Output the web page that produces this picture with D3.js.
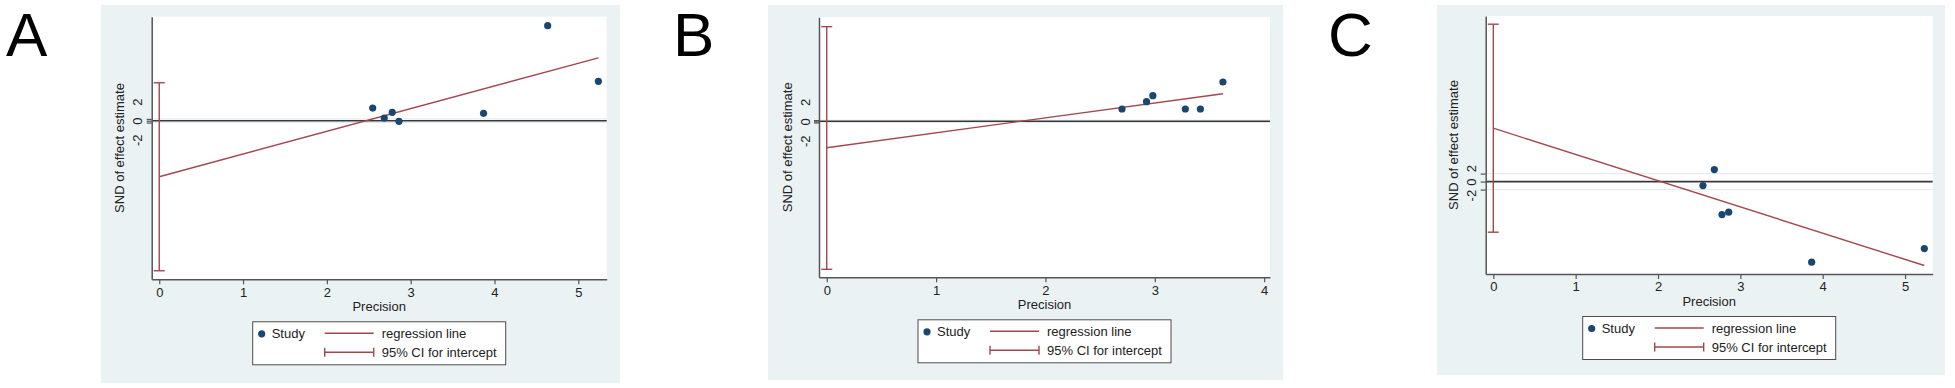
<!DOCTYPE html>
<html>
<head>
<meta charset="utf-8">
<script src="https://cdn.jsdelivr.net/npm/d3@7"></script>
<style>
  body { margin: 0; background: #fff; }
  svg { display: block; font-family: "Liberation Sans", Arial, sans-serif; }
</style>
</head>
<body>
<div id="chart"></div>
<script>
// ---- data ----
// Panel A
const precisionA = [2.547, 2.685, 2.78, 2.86, 3.87, 4.635, 5.24];
const sndA = [14.1, 3.0, 9.3, -0.7, 8.2, 105.6, 43.8];
const regA = [-62.2, 25.2];          // intercept, slope
const ciA = [-166.7, 42.2];          // 95% CI for intercept

// Panel B
const precisionB = [2.70, 2.924, 2.982, 3.279, 3.417, 3.623];
const sndB = [20.5, 32.7, 42.7, 20.5, 20.5, 65.5];
const regB = [-44, 24.84];
const ciB = [-246.7, 157.7];

// Panel C
const precisionC = [2.546, 2.684, 2.777, 2.858, 3.866, 5.234];
const sndC = [-1.0, 3.0, -8.25, -7.65, -20.15, -16.75];
const regC = [13.35, -6.56];
const ciC = [-12.65, 39.35];

const yTicks = [-2, 0, 2];
const xTicksA = [0, 1, 2, 3, 4, 5];
const xTicksB = [0, 1, 2, 3, 4];
const xTicksC = [0, 1, 2, 3, 4, 5];
const legendLabels = ['Study', 'regression line', '95% CI for intercept'];
const xTitle = 'Precision';
const yTitle = 'SND of effect estimate';

// ---- layout ----
const panels = [
  { letter: 'A', letterX: 6, bg: [101, 5, 620, 383],
    plot: { left: 151.7, right: 606.7, top: 16.7, bottom: 279.3 },
    xDomain: [-0.09, 5.339], yDomain: [-176.2, 115.6], labelGap: 19,
    precision: precisionA, snd: sndA, reg: regA, ci: ciA, xTicks: xTicksA },
  { letter: 'B', letterX: 673, bg: [768, 5, 1283, 380],
    plot: { left: 819, right: 1270, top: 17.3, bottom: 277.3 },
    xDomain: [-0.0708, 4.0533], yDomain: [-260, 173.3], labelGap: 19.5,
    precision: precisionB, snd: sndB, reg: regB, ci: ciB, xTicks: xTicksB },
  { letter: 'C', letterX: 1328, bg: [1437, 5, 1945, 375],
    plot: { left: 1485.7, right: 1932.7, top: 16, bottom: 274 },
    xDomain: [-0.0923, 5.3357], yDomain: [-23.1, 41.4], labelGap: 13.5,
    precision: precisionC, snd: sndC, reg: regC, ci: ciC, xTicks: xTicksC }
];

const colors = { bg: '#eaf2f3', point: '#1a476f', reg: '#a3474f', axis: '#555', text: '#222', zero: '#383838', grid: '#e2e9ec' };

const svg = d3.select('#chart').append('svg')
  .attr('width', 1955)
  .attr('height', 388);

panels.forEach(p => drawPanel(p));

function drawPanel(p) {
  const g = svg.append('g');
  const { left, right, top, bottom } = p.plot;

  // panel letter
  g.append('text')
    .attr('x', p.letterX).attr('y', 56)
    .attr('font-size', 62).attr('fill', '#000')
    .text(p.letter);

  // graph region + plot region
  g.append('rect')
    .attr('x', p.bg[0]).attr('y', p.bg[1])
    .attr('width', p.bg[2] - p.bg[0]).attr('height', p.bg[3] - p.bg[1])
    .attr('fill', colors.bg);
  g.append('rect')
    .attr('x', left).attr('y', top)
    .attr('width', right - left).attr('height', bottom - top)
    .attr('fill', '#fff');

  const x = d3.scaleLinear().domain(p.xDomain).range([left, right]);
  const y = d3.scaleLinear().domain(p.yDomain).range([bottom, top]);

  // light gridlines at y ticks
  g.selectAll('.grid').data(yTicks.filter(v => v !== 0)).enter()
    .append('line')
    .attr('x1', left).attr('x2', right)
    .attr('y1', d => y(d)).attr('y2', d => y(d))
    .attr('stroke', colors.grid).attr('stroke-width', 1);

  // zero reference line
  g.append('line')
    .attr('x1', left).attr('x2', right)
    .attr('y1', y(0)).attr('y2', y(0))
    .attr('stroke', colors.zero).attr('stroke-width', 1.6);

  // CI for intercept
  const capW = 5.5;
  const ci = g.append('g').attr('stroke', colors.reg).attr('stroke-width', 1.4);
  ci.append('line').attr('x1', x(0)).attr('x2', x(0)).attr('y1', y(p.ci[0])).attr('y2', y(p.ci[1]));
  p.ci.forEach(v => {
    ci.append('line').attr('x1', x(0) - capW).attr('x2', x(0) + capW).attr('y1', y(v)).attr('y2', y(v));
  });

  // regression line
  const xMax = d3.max(p.precision);
  g.append('line')
    .attr('x1', x(0)).attr('y1', y(p.reg[0]))
    .attr('x2', x(xMax)).attr('y2', y(p.reg[0] + p.reg[1] * xMax))
    .attr('stroke', colors.reg).attr('stroke-width', 1.4);

  // studies
  g.selectAll('.pt').data(p.precision).enter()
    .append('circle')
    .attr('cx', d => x(d))
    .attr('cy', (d, i) => y(p.snd[i]))
    .attr('r', 3.6)
    .attr('fill', colors.point);

  // x axis
  const xAxis = g.append('g')
    .attr('transform', `translate(0,${bottom})`)
    .call(d3.axisBottom(x).tickValues(p.xTicks).tickFormat(d3.format('d'))
      .tickSize(5).tickSizeOuter(0).tickPadding(3));
  xAxis.select('.domain').attr('stroke', colors.axis).attr('stroke-width', 1.5);
  xAxis.selectAll('.tick line').attr('stroke', colors.axis).attr('stroke-width', 1.2);
  xAxis.selectAll('.tick text')
    .attr('font-size', 13).attr('fill', colors.text)
    .attr('font-family', '"Liberation Sans", Arial, sans-serif');

  // y axis
  const yAxis = g.append('g')
    .attr('transform', `translate(${left},0)`)
    .call(d3.axisLeft(y).tickValues(yTicks).tickFormat(d3.format('d'))
      .tickSize(5).tickSizeOuter(0));
  yAxis.select('.domain').attr('stroke', colors.axis).attr('stroke-width', 1.5);
  yAxis.selectAll('.tick line').attr('stroke', colors.axis).attr('stroke-width', 1.2);
  yAxis.selectAll('.tick text')
    .attr('font-size', 13).attr('fill', colors.text)
    .attr('font-family', '"Liberation Sans", Arial, sans-serif')
    .attr('text-anchor', 'middle')
    .attr('x', 0).attr('dy', '0.35em')
    .text(d => d < 0 ? '-' + Math.abs(d) : d)
    .attr('transform', d => {
      const ly = y(0) - Math.sign(d) * p.labelGap;
      return `translate(-14,${ly - y(d)}) rotate(-90)`;
    });

  // axis titles
  const cx = (left + right) / 2;
  g.append('text')
    .attr('x', cx).attr('y', bottom + 31.5)
    .attr('text-anchor', 'middle')
    .attr('font-size', 13).attr('fill', colors.text)
    .text(xTitle);
  g.append('text')
    .attr('transform', `translate(${left - 32},${(top + bottom) / 2}) rotate(-90)`)
    .attr('text-anchor', 'middle').attr('dy', '0.35em')
    .attr('font-size', 13).attr('fill', colors.text)
    .text(yTitle);

  // legend
  const lw = 253, lh = 43;
  const lx = cx - lw / 2, ly = bottom + 42.5;
  const lg = g.append('g').attr('transform', `translate(${lx},${ly})`);
  lg.append('rect').attr('width', lw).attr('height', lh)
    .attr('fill', '#fff').attr('stroke', '#4d4d4d').attr('stroke-width', 1);
  lg.append('circle').attr('cx', 9).attr('cy', 12).attr('r', 3.6).attr('fill', colors.point);
  lg.append('text').attr('x', 19).attr('y', 12).attr('dy', '0.35em')
    .attr('font-size', 13).attr('fill', colors.text).text(legendLabels[0]);
  lg.append('line').attr('x1', 72).attr('x2', 121).attr('y1', 11.5).attr('y2', 11.5)
    .attr('stroke', colors.reg).attr('stroke-width', 1.4);
  lg.append('text').attr('x', 129).attr('y', 12).attr('dy', '0.35em')
    .attr('font-size', 13).attr('fill', colors.text).text(legendLabels[1]);
  const sym = lg.append('g').attr('stroke', colors.reg).attr('stroke-width', 1.4);
  sym.append('line').attr('x1', 72).attr('x2', 121).attr('y1', 30.5).attr('y2', 30.5);
  sym.append('line').attr('x1', 72).attr('x2', 72).attr('y1', 26).attr('y2', 35);
  sym.append('line').attr('x1', 121).attr('x2', 121).attr('y1', 26).attr('y2', 35);
  lg.append('text').attr('x', 129).attr('y', 31).attr('dy', '0.35em')
    .attr('font-size', 13).attr('fill', colors.text).text(legendLabels[2]);
}
</script>
</body>
</html>
